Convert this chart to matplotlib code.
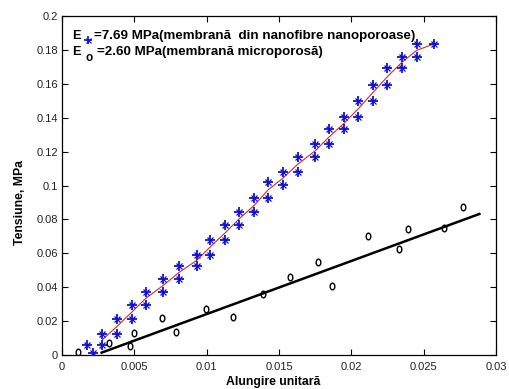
import matplotlib
matplotlib.use("Agg")
import matplotlib.pyplot as plt
from matplotlib.path import Path
from matplotlib.transforms import Affine2D
import numpy as np

# nanofibre membrane (stars)
star_x = [0.0017, 0.00217,
          0.00279, 0.00279, 0.00378, 0.00378, 0.00482, 0.00482,
          0.00578, 0.00578, 0.0070, 0.0070, 0.0081, 0.0081,
          0.0093, 0.0093, 0.0102, 0.0102, 0.0113, 0.0113,
          0.01226, 0.01226, 0.01329, 0.01329, 0.01426, 0.01426,
          0.01525, 0.01525, 0.01629, 0.01629, 0.0175, 0.0175,
          0.01847, 0.01847, 0.01951, 0.01951, 0.02048, 0.02048,
          0.02147, 0.02147, 0.02249, 0.02249, 0.02348, 0.02348,
          0.02452, 0.02452, 0.02571]
star_y = [0.0059, 0.0010,
          0.0124, 0.0057, 0.0210, 0.0124, 0.0295, 0.0210,
          0.0372, 0.0295, 0.0450, 0.0372, 0.0525, 0.0450,
          0.0590, 0.0525, 0.0678, 0.0590, 0.0767, 0.0678,
          0.0842, 0.0767, 0.0924, 0.0842, 0.1023, 0.0928,
          0.1080, 0.1003, 0.1170, 0.1080, 0.1243, 0.1166,
          0.1331, 0.1243, 0.1406, 0.1331, 0.1500, 0.1406,
          0.1593, 0.1500, 0.1691, 0.1593, 0.1760, 0.1691,
          0.1835, 0.1760, 0.1835]

# microporous membrane (circles)
circ_x = [0.00113, 0.00327, 0.0047, 0.0050, 0.00693, 0.00788, 0.00995,
          0.01184, 0.01392, 0.01576, 0.01767, 0.01864, 0.02117, 0.02329,
          0.02394, 0.02643, 0.0277]
circ_y = [0.0020, 0.0069, 0.0053, 0.0128, 0.0216, 0.0138, 0.0269,
          0.0222, 0.0360, 0.0458, 0.0550, 0.0407, 0.0702, 0.0623,
          0.0741, 0.0747, 0.0875]

# straight fit for circles
fit_x = [0.00274, 0.02885]
fit_y = [0.0014, 0.0832]

x_ticks = [0, 0.005, 0.01, 0.015, 0.02, 0.025, 0.03]
x_labels = ["0", "0.005", "0.01", "0.015", "0.02", "0.025", "0.03"]
y_ticks = [0, 0.02, 0.04, 0.06, 0.08, 0.1, 0.12, 0.14, 0.16, 0.18, 0.2]
y_labels = ["0", "0.02", "0.04", "0.06", "0.08", "0.1", "0.12", "0.14",
            "0.16", "0.18", "0.2"]

legend_rows = ["=7.69 MPa(membrană  din nanofibre nanoporoase)",
               "=2.60 MPa(membrană microporosă)"]

# red curve: mean of stars at each x, from the first pair on
sx = np.array(star_x[2:])
sy = np.array(star_y[2:])
red_x = np.unique(sx)
red_y = np.array([sy[sx == v].mean() for v in red_x])

plt.rcParams['font.family'] = ['Liberation Sans', 'DejaVu Sans']

fig = plt.figure(figsize=(5.09, 3.89), dpi=100)
ax = fig.add_axes([62 / 509, 34 / 389, 434 / 509, 339 / 389])

# elongated "o" like the reference
ell = Path.unit_circle().transformed(Affine2D().scale(0.7, 1.0))

ax.plot(red_x, red_y, color="#d42a2a", lw=0.8, zorder=2)
ax.plot(fit_x, fit_y, color="black", lw=1.8, zorder=2)
ax.plot(star_x, star_y, ls="none", marker="+", ms=7, mew=1.3,
        color="#1010d0", zorder=3)
ax.plot(star_x, star_y, ls="none", marker="x", ms=4.2, mew=0.9,
        color="#1010d0", zorder=3)
ax.plot(circ_x, circ_y, ls="none", marker=ell, ms=4.8, mew=1.0,
        mfc="none", mec="black", zorder=3)

ax.set_xlim(0, 0.03)
ax.set_ylim(0, 0.2)
ax.set_xticks(x_ticks)
ax.set_xticklabels(x_labels)
ax.set_yticks(y_ticks)
ax.set_yticklabels(y_labels)
ax.tick_params(direction="in", length=4, width=0.8, top=True, right=True,
               labelsize=8, labelcolor="#222222")
ax.tick_params(axis="x", pad=5)
ax.tick_params(axis="y", pad=3)
for sp in ax.spines.values():
    sp.set_linewidth(0.9)

ax.set_xlabel("Alungire unitară", fontsize=8.8, fontweight="bold")
ax.xaxis.set_label_coords(0.487, -0.062)
ax.set_ylabel("Tensiune, MPa", fontsize=8.8, fontweight="bold")
ax.yaxis.set_label_coords(-0.082, 0.45)

# legend-like text block
row_y = [0.94, 0.893]
text_x = [0.074, 0.081]
for i, txt in enumerate(legend_rows):
    ax.text(0.023, row_y[i], "E", transform=ax.transAxes, fontsize=9.2,
            fontweight="bold", va="center", ha="left")
    ax.text(text_x[i], row_y[i], txt, transform=ax.transAxes,
            fontsize=9.6, fontweight="bold", va="center", ha="left")
ax.plot([0.061], [0.928], transform=ax.transAxes, marker="+", ms=6,
        mew=1.2, color="#1010d0", clip_on=False)
ax.plot([0.061], [0.928], transform=ax.transAxes, marker="x", ms=3.6,
        mew=0.8, color="#1010d0", clip_on=False)
ax.text(0.054, 0.877, "o", transform=ax.transAxes, fontsize=8.5,
        fontweight="bold", va="center", ha="left")

fig.savefig("out.png", dpi=100)
